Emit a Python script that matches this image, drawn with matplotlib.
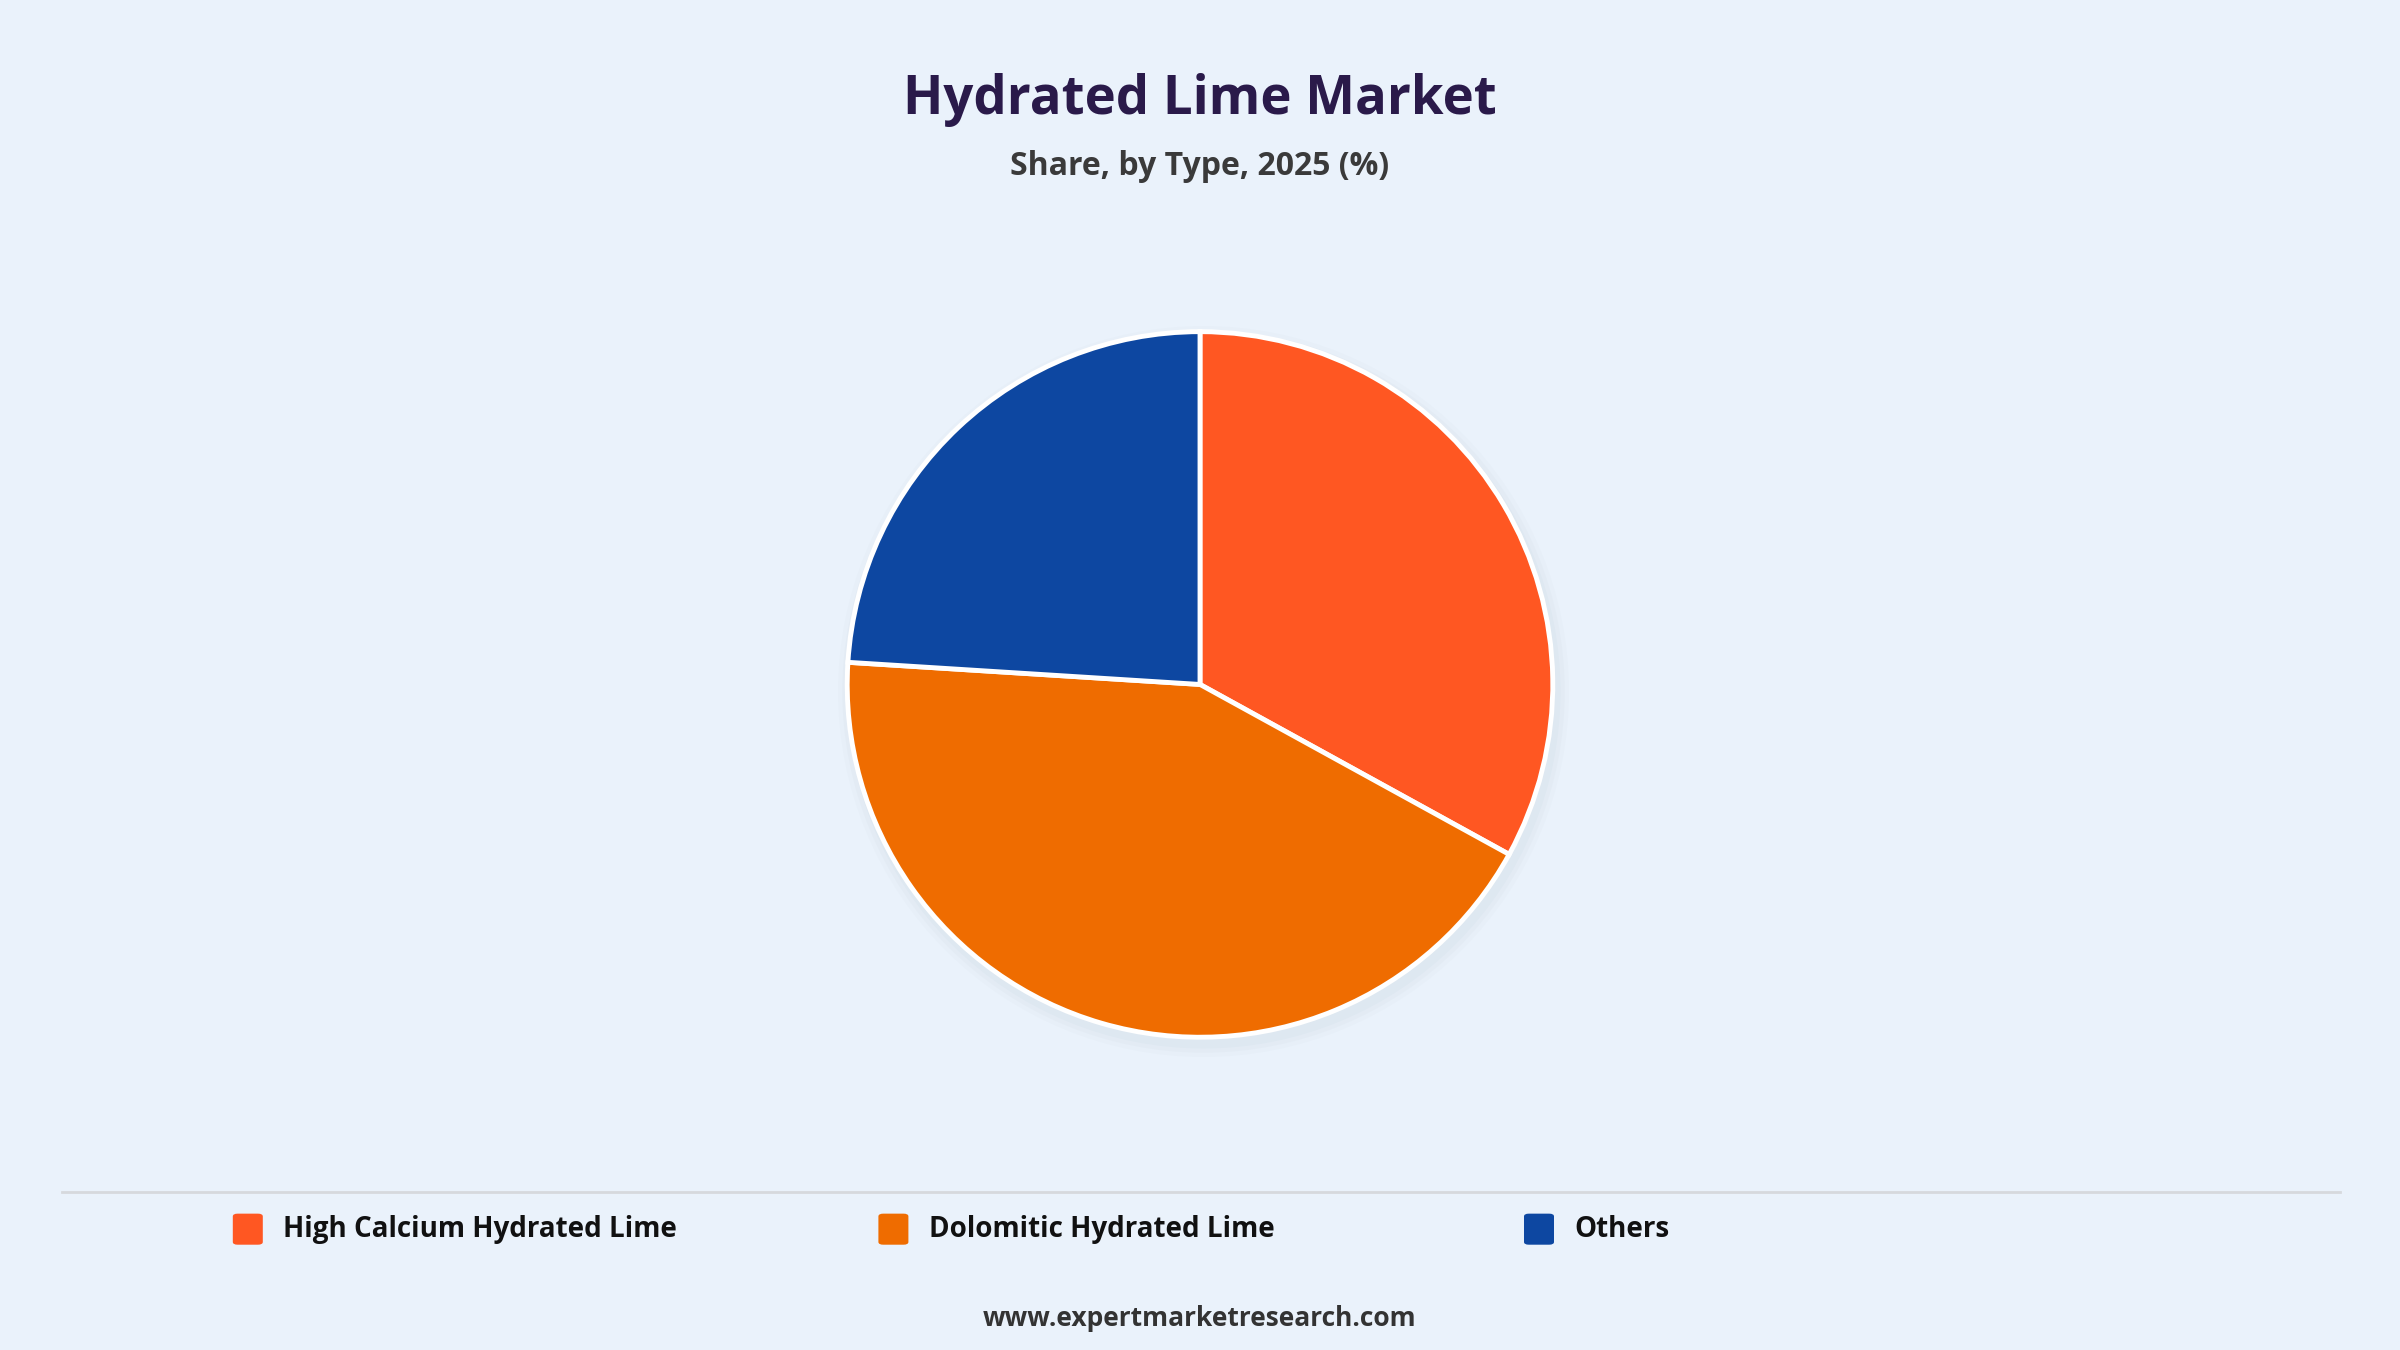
import matplotlib.pyplot as plt
from matplotlib.patches import FancyBboxPatch, Circle

categories = ["High Calcium Hydrated Lime", "Dolomitic Hydrated Lime", "Others"]
shares = [33, 43, 24]
colors = ["#ff5722", "#ef6c00", "#0d47a1"]

plt.rcParams['font.family'] = ['Open Sans', 'DejaVu Sans']
bg = "#eaf2fb"

fig = plt.figure(figsize=(24, 13.5), dpi=100, facecolor=bg)

h = 0.554
w = h * 1350 / 2400
ax = fig.add_axes([0.5 - w / 2, 0.493 - h / 2, w, h])
ax.set_facecolor(bg)
# soft shadow
for i, a in enumerate([0.05, 0.04, 0.03]):
    ax.add_patch(Circle((0.01, -0.02), 1.0 + 0.012 * (i + 1), color="#90a4ae", alpha=a, lw=0, zorder=0))
ax.pie(shares, colors=colors, startangle=90, counterclock=False,
       wedgeprops=dict(edgecolor="white", linewidth=3.5), radius=1.0)
ax.set_xlim(-1.06, 1.06)
ax.set_ylim(-1.06, 1.06)
ax.set_aspect("equal")
ax.axis("off")

fig.text(0.5, 0.926, "Hydrated Lime Market", ha="center", va="center",
         fontsize=38, fontweight="bold", color="#2a1a4a")
fig.text(0.5, 0.877, "Share, by Type, 2025 (%)", ha="center", va="center",
         fontsize=23, fontweight="bold", color="#3a3a3a")

fig.add_artist(plt.Line2D([0.026, 0.975], [0.117, 0.117], color="#d6d9dd", lw=2))

xs = [0.097, 0.366, 0.635]
for x, label, c in zip(xs, categories, colors):
    fig.add_artist(FancyBboxPatch((x, 0.078), 0.0125, 0.023, boxstyle="round,pad=0,rounding_size=0.002",
                                  transform=fig.transFigure, facecolor=c, edgecolor="none"))
    fig.text(x + 0.021, 0.089, label, ha="left", va="center", fontsize=20,
             fontweight="bold", color="#111111")

fig.text(0.5, 0.023, "www.expertmarketresearch.com", ha="center", va="center",
         fontsize=19, fontweight="bold", color="#333333")

fig.savefig("out.png", dpi=100, facecolor=bg)
